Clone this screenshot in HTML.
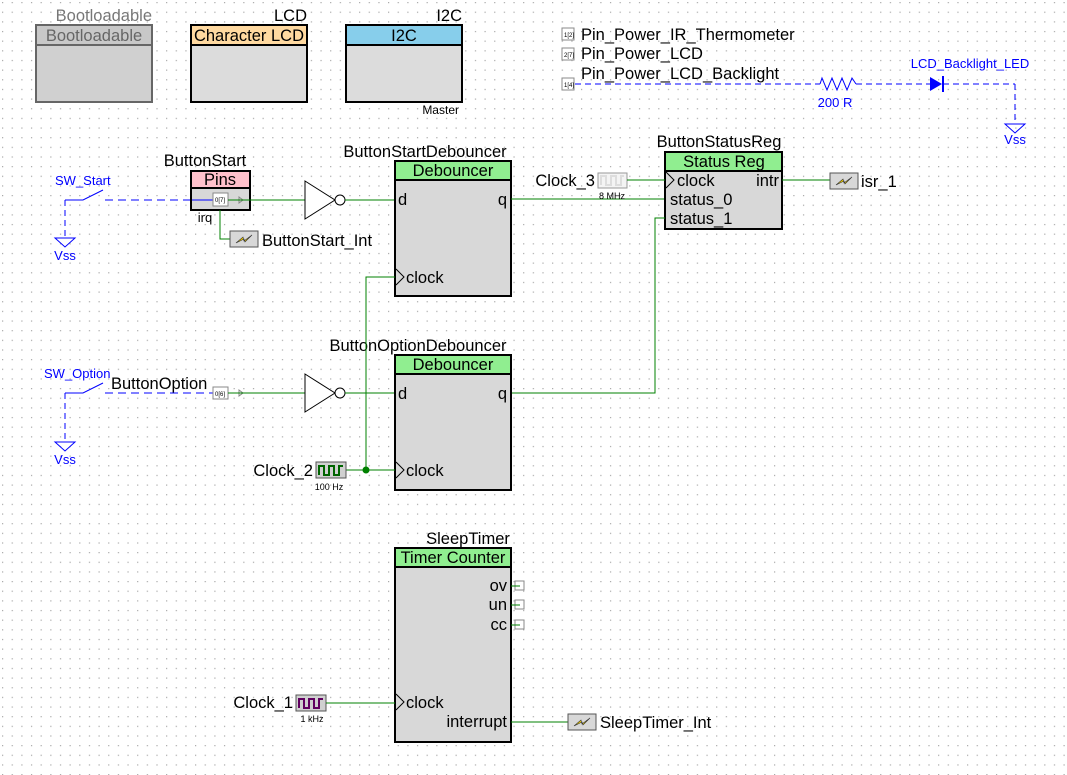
<!DOCTYPE html>
<html><head><meta charset="utf-8"><style>
html,body{margin:0;padding:0;background:#fff}
svg{display:block}
text{font-family:"Liberation Sans",sans-serif}
</style></head><body>
<svg width="1067" height="775" viewBox="0 0 1067 775" xmlns="http://www.w3.org/2000/svg">
<defs>
<pattern id="g" x="2" y="2" width="9.65" height="9.65" patternUnits="userSpaceOnUse">
<rect x="0" y="0" width="1.2" height="1.2" fill="#a8a8a8"/></pattern>
<g id="isr"><rect x="0" y="0" width="28" height="16" fill="#d8d8d8" stroke="#555"/><path d="M6 12 L13 6 L14 10 L22 4 L15 11 L14 8 Z" fill="#e8c800" stroke="#333" stroke-width="0.6"/></g>
<g id="tri"><path d="M0 0 L30 19 L0 38 Z" fill="#fff" stroke="#000"/><circle cx="35" cy="19" r="5" fill="#fff" stroke="#000"/></g>
<g id="vss"><path d="M-10 0 L10 0 L0 9 Z" fill="none" stroke="#0000ff"/></g>
</defs>
<rect width="1067" height="775" fill="url(#g)"/>

<g font-size="16.5">
<!-- top components -->
<text x="152" y="21" fill="#777" text-anchor="end">Bootloadable</text>
<rect x="36" y="25" width="116" height="77" fill="#d0d0d0" stroke="#666" stroke-width="2"/>
<rect x="36" y="25" width="116" height="20" fill="#c8c8c8" stroke="#666" stroke-width="2"/>
<text x="94" y="41" fill="#666" text-anchor="middle">Bootloadable</text>

<text x="307" y="21" text-anchor="end">LCD</text>
<rect x="191" y="25" width="116" height="77" fill="#dcdcdc" stroke="#000" stroke-width="2"/>
<rect x="191" y="25" width="116" height="20" fill="#ffd9a0" stroke="#000" stroke-width="2"/>
<text x="249" y="41" text-anchor="middle">Character LCD</text>

<text x="462" y="21" text-anchor="end">I2C</text>
<rect x="346" y="25" width="116" height="77" fill="#dcdcdc" stroke="#000" stroke-width="2"/>
<rect x="346" y="25" width="116" height="20" fill="#87ceeb" stroke="#000" stroke-width="2"/>
<text x="404" y="41" text-anchor="middle">I2C</text>
<text x="459" y="114" font-size="12" text-anchor="end">Master</text>

<!-- power pins -->
<rect x="562" y="28" width="12" height="12" fill="#fff" stroke="#888"/><text x="564" y="37" font-size="6">1[2]</text>
<text x="581" y="40">Pin_Power_IR_Thermometer</text>
<rect x="562" y="48" width="12" height="12" fill="#fff" stroke="#888"/><text x="564" y="57" font-size="6">2[7]</text>
<text x="581" y="59">Pin_Power_LCD</text>
<rect x="562" y="78" width="12" height="12" fill="#fff" stroke="#888"/><text x="564" y="87" font-size="6">1[4]</text>
<text x="581" y="79">Pin_Power_LCD_Backlight</text>
<line x1="575" y1="84" x2="820" y2="84" stroke="#0000ff" stroke-dasharray="6,4"/>
<path d="M820 84 L822 78 L827 90 L832 78 L837 90 L842 78 L847 90 L852 78 L856 84" fill="none" stroke="#0000ff"/>
<line x1="856" y1="84" x2="930" y2="84" stroke="#0000ff" stroke-dasharray="6,4"/>
<text x="835" y="107" font-size="13" fill="#0000ff" text-anchor="middle">200 R</text>
<path d="M930 77 L942 84 L930 91 Z" fill="#0000ff"/><line x1="943" y1="76" x2="943" y2="92" stroke="#0000ff" stroke-width="2"/>
<line x1="943" y1="84" x2="1015" y2="84" stroke="#0000ff" stroke-dasharray="6,4"/>
<line x1="1015" y1="84" x2="1015" y2="124" stroke="#0000ff" stroke-dasharray="6,4"/>
<use href="#vss" x="1015" y="124"/>
<text x="1015" y="144" font-size="13" fill="#0000ff" text-anchor="middle">Vss</text>
<text x="970" y="68" font-size="13" fill="#0000ff" text-anchor="middle">LCD_Backlight_LED</text>

<!-- ButtonStart -->
<text x="55" y="185" font-size="13" fill="#0000ff">SW_Start</text>
<path d="M65 200 L83 200 L103 190" fill="none" stroke="#0000ff"/>
<line x1="105" y1="200" x2="192" y2="200" stroke="#0000ff" stroke-dasharray="8,5"/>
<line x1="65" y1="200" x2="65" y2="238" stroke="#0000ff" stroke-dasharray="6,4"/>
<use href="#vss" x="65" y="238"/>
<text x="65" y="260" font-size="13" fill="#0000ff" text-anchor="middle">Vss</text>

<text x="205" y="166" text-anchor="middle">ButtonStart</text>
<rect x="191" y="171" width="59" height="39" fill="#d8d8d8" stroke="#000" stroke-width="2"/>
<rect x="191" y="171" width="59" height="17" fill="#ffc0cb" stroke="#000" stroke-width="2"/>
<text x="220" y="185" text-anchor="middle">Pins</text>
<line x1="192" y1="200" x2="213" y2="200" stroke="#0000ff"/>
<rect x="213" y="193" width="15" height="13" fill="#fff" stroke="#888"/><text x="215" y="202" font-size="6">0[7]</text>
<path d="M239 197 L243 200 L239 203 Z" fill="none" stroke="#888"/>
<text x="205" y="222" font-size="13" text-anchor="middle">irq</text>
<path d="M220 210 L220 239 L230 239" fill="none" stroke="#008000"/>
<use href="#isr" x="230" y="231"/>
<text x="262" y="246">ButtonStart_Int</text>
<line x1="228" y1="200" x2="305" y2="200" stroke="#008000"/>
<use href="#tri" x="305" y="181"/>
<line x1="345" y1="200" x2="395" y2="200" stroke="#008000"/>

<!-- ButtonStartDebouncer -->
<text x="425" y="157" text-anchor="middle">ButtonStartDebouncer</text>
<rect x="395" y="161" width="116" height="135" fill="#d8d8d8" stroke="#000" stroke-width="2"/>
<rect x="395" y="161" width="116" height="19" fill="#90ee90" stroke="#000" stroke-width="2"/>
<text x="453" y="176" text-anchor="middle">Debouncer</text>
<text x="398" y="205">d</text>
<text x="507" y="205" text-anchor="end">q</text>
<path d="M396 269 L404 277 L396 285" fill="none" stroke="#000"/>
<text x="406" y="283">clock</text>
<line x1="511" y1="199" x2="665" y2="199" stroke="#008000"/>

<!-- Status Reg -->
<text x="719" y="147" text-anchor="middle">ButtonStatusReg</text>
<rect x="665" y="152" width="117" height="77" fill="#d8d8d8" stroke="#000" stroke-width="2"/>
<rect x="665" y="152" width="117" height="19" fill="#90ee90" stroke="#000" stroke-width="2"/>
<text x="724" y="167" text-anchor="middle">Status Reg</text>
<path d="M666 172 L674 180 L666 188" fill="none" stroke="#000"/>
<text x="677" y="186">clock</text>
<text x="670" y="205">status_0</text>
<text x="670" y="224">status_1</text>
<text x="779" y="186" text-anchor="end">intr</text>
<text x="595" y="186" text-anchor="end">Clock_3</text>
<rect x="598" y="173" width="29" height="15" fill="#f4f4f4" stroke="#999"/>
<path d="M601 185 L601 176 L606 176 L606 185 L611 185 L611 176 L616 176 L616 185 L621 185 L621 176 L624 176" fill="none" stroke="#ddd" stroke-width="2"/>
<text x="612" y="199" font-size="9" text-anchor="middle">8 MHz</text>
<line x1="627" y1="180" x2="665" y2="180" stroke="#008000"/>
<line x1="782" y1="180" x2="830" y2="180" stroke="#008000"/>
<use href="#isr" x="830" y="173"/>
<text x="861" y="187">isr_1</text>
<path d="M665 218 L655 218 L655 393 L511 393" fill="none" stroke="#008000"/>

<!-- Option -->
<text x="44" y="378" font-size="13" fill="#0000ff">SW_Option</text>
<path d="M65 393 L83 393 L103 383" fill="none" stroke="#0000ff"/>
<line x1="105" y1="393" x2="213" y2="393" stroke="#0000ff" stroke-dasharray="8,5"/>
<line x1="65" y1="393" x2="65" y2="442" stroke="#0000ff" stroke-dasharray="6,4"/>
<use href="#vss" x="65" y="442"/>
<text x="65" y="464" font-size="13" fill="#0000ff" text-anchor="middle">Vss</text>
<text x="111" y="389">ButtonOption</text>
<rect x="213" y="387" width="15" height="12" fill="#fff" stroke="#888"/><text x="215" y="396" font-size="6">0[6]</text>
<path d="M239 390 L243 393 L239 396 Z" fill="none" stroke="#888"/>
<line x1="228" y1="393" x2="305" y2="393" stroke="#008000"/>
<use href="#tri" x="305" y="374"/>
<line x1="345" y1="393" x2="395" y2="393" stroke="#008000"/>

<text x="418" y="351" text-anchor="middle">ButtonOptionDebouncer</text>
<rect x="395" y="355" width="116" height="135" fill="#d8d8d8" stroke="#000" stroke-width="2"/>
<rect x="395" y="355" width="116" height="19" fill="#90ee90" stroke="#000" stroke-width="2"/>
<text x="453" y="370" text-anchor="middle">Debouncer</text>
<text x="398" y="399">d</text>
<text x="507" y="399" text-anchor="end">q</text>
<path d="M396 462 L404 470 L396 478" fill="none" stroke="#000"/>
<text x="406" y="476">clock</text>
<path d="M395 277 L366 277 L366 470" fill="none" stroke="#008000"/>
<line x1="346" y1="470" x2="395" y2="470" stroke="#008000"/>
<circle cx="366" cy="470" r="3.5" fill="#008000"/>
<text x="313" y="476" text-anchor="end">Clock_2</text>
<rect x="316" y="462" width="30" height="16" fill="#d0d0d0" stroke="#555"/>
<path d="M319 475 L319 466 L324 466 L324 475 L329 475 L329 466 L334 466 L334 475 L339 475 L339 466 L343 466" fill="none" stroke="#006400" stroke-width="2"/>
<text x="329" y="490" font-size="9" text-anchor="middle">100 Hz</text>

<!-- SleepTimer -->
<text x="468" y="544" text-anchor="middle">SleepTimer</text>
<rect x="395" y="548" width="116" height="194" fill="#d8d8d8" stroke="#000" stroke-width="2"/>
<rect x="395" y="548" width="116" height="19" fill="#90ee90" stroke="#000" stroke-width="2"/>
<text x="453" y="563" text-anchor="middle">Timer Counter</text>
<text x="507" y="591" text-anchor="end">ov</text>
<text x="507" y="610" text-anchor="end">un</text>
<text x="507" y="630" text-anchor="end">cc</text>
<g fill="#fff" stroke="#888"><rect x="515" y="581" width="9" height="9"/><rect x="515" y="600" width="9" height="9"/><rect x="515" y="620" width="9" height="9"/></g>
<g stroke="#008000"><line x1="511" y1="586" x2="520" y2="586"/><line x1="511" y1="605" x2="520" y2="605"/><line x1="511" y1="625" x2="520" y2="625"/></g>
<path d="M396 694 L404 702 L396 710" fill="none" stroke="#000"/>
<text x="406" y="708">clock</text>
<text x="507" y="727" text-anchor="end">interrupt</text>
<text x="293" y="708" text-anchor="end">Clock_1</text>
<rect x="296" y="695" width="30" height="16" fill="#d0d0d0" stroke="#555"/>
<path d="M299 708 L299 699 L304 699 L304 708 L309 708 L309 699 L314 699 L314 708 L319 708 L319 699 L323 699" fill="none" stroke="#600060" stroke-width="2"/>
<text x="312" y="722" font-size="9" text-anchor="middle">1 kHz</text>
<line x1="326" y1="703" x2="395" y2="703" stroke="#008000"/>
<line x1="511" y1="722" x2="568" y2="722" stroke="#008000"/>
<use href="#isr" x="568" y="714"/>
<text x="600" y="728">SleepTimer_Int</text>
</g>
</svg>
</body></html>
